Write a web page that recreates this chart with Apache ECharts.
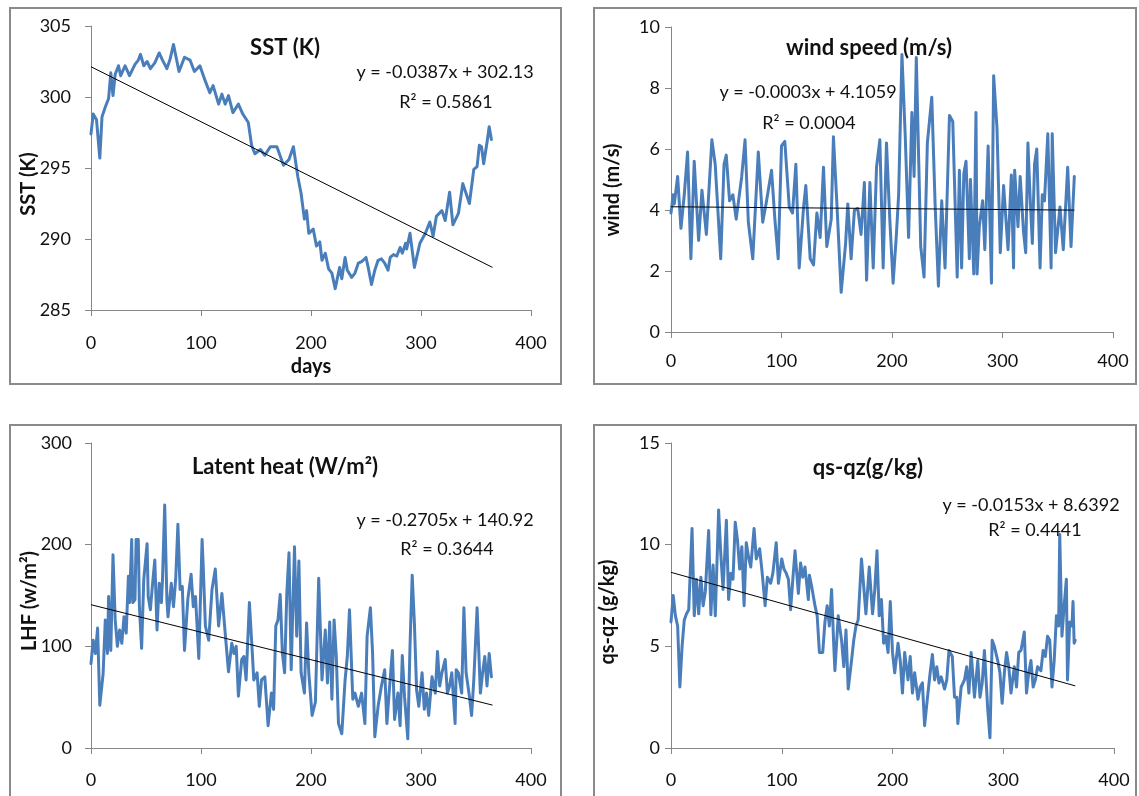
<!DOCTYPE html>
<html>
<head>
<meta charset="utf-8">
<script src="https://cdn.jsdelivr.net/npm/echarts@6/dist/echarts.min.js"></script>
<style>
  html, body { margin: 0; padding: 0; background: #fff; }
  #chart { width: 1139px; height: 796px; }
</style>
</head>
<body>
<div id="chart"></div>
<script>
// day-of-year axis ticks (shared)
const dayTicks = [0, 100, 200, 300, 400];

// SST (K)
const sstDays = [0, 2, 5, 8, 10, 13, 16, 18, 20, 22, 25, 27, 31, 35, 40, 43, 45, 48, 51, 54, 58, 62, 65, 69, 72, 75, 80, 85, 90, 94, 99, 104, 108, 111, 116, 119, 122, 125, 129, 134, 138, 143, 146, 149, 154, 158, 163, 169, 175, 180, 184, 188, 191, 194, 196, 198, 202, 205, 208, 210, 213, 216, 219, 222, 226, 228, 231, 233, 237, 240, 243, 246, 250, 252, 255, 258, 261, 264, 267, 270, 272, 275, 278, 281, 283, 286, 287, 290, 294, 299, 304, 308, 311, 314, 319, 322, 326, 329, 334, 338, 341, 344, 348, 351, 353, 355, 357, 360, 362, 364];
const sstVals = [297.4, 298.8, 298.4, 295.7, 298.6, 299.3, 299.9, 301.7, 300.1, 301.6, 302.2, 301.5, 302.2, 301.5, 302.3, 302.6, 303.0, 302.2, 302.5, 302.0, 302.4, 303.1, 302.6, 302.0, 302.7, 303.7, 301.8, 302.8, 302.6, 301.8, 302.2, 301.1, 300.3, 300.8, 299.5, 300.2, 299.5, 300.1, 298.9, 299.5, 298.8, 298.2, 296.6, 296.0, 296.3, 295.9, 296.5, 296.5, 295.2, 295.6, 296.5, 294.4, 293.2, 291.4, 292.0, 290.4, 290.7, 289.5, 289.8, 288.5, 289.0, 287.9, 287.6, 286.5, 288.0, 287.2, 288.7, 287.8, 287.3, 287.6, 288.3, 288.4, 288.7, 288.0, 286.8, 287.8, 288.5, 288.6, 288.3, 287.8, 288.7, 288.9, 288.8, 289.4, 289.0, 289.7, 289.3, 290.4, 288.0, 289.7, 290.4, 291.2, 290.2, 291.6, 292.0, 291.3, 293.3, 291.0, 291.8, 293.9, 293.2, 292.5, 294.9, 295.1, 296.6, 296.5, 295.3, 296.8, 297.9, 297.0];
const sstTrend = [302.13, 288.0];

// wind speed (m/s)
const windDays = [0, 2, 3, 6, 9, 12, 15, 18, 21, 25, 28, 32, 37, 40, 45, 48, 50, 53, 56, 59, 64, 67, 70, 74, 79, 83, 86, 91, 94, 97, 100, 103, 107, 110, 113, 116, 120, 122, 126, 129, 132, 135, 138, 141, 145, 147, 150, 154, 158, 160, 163, 166, 169, 172, 175, 177, 180, 183, 186, 189, 192, 195, 198, 201, 204, 206, 209, 212, 215, 218, 220, 222, 226, 229, 232, 236, 239, 242, 245, 248, 252, 255, 259, 261, 263, 265, 267, 270, 271, 274, 276, 277, 279, 282, 284, 287, 290, 292, 295, 298, 301, 305, 308, 310, 311, 314, 316, 319, 321, 323, 325, 327, 329, 331, 334, 336, 338, 341, 344, 345, 348, 352, 355, 359, 362, 365];
const windVals = [3.9, 4.5, 4.2, 5.1, 3.4, 4.5, 5.9, 2.4, 5.6, 3.0, 4.65, 3.2, 6.3, 5.5, 2.4, 5.5, 5.8, 4.3, 4.5, 3.7, 5.1, 6.3, 3.6, 2.4, 5.9, 3.6, 4.2, 5.3, 3.7, 2.4, 6.1, 6.25, 4.1, 3.9, 5.5, 2.1, 4.1, 4.8, 2.4, 2.2, 3.9, 3.1, 5.4, 2.8, 3.7, 6.4, 4.3, 1.3, 2.9, 4.2, 2.4, 4.0, 4.05, 3.2, 4.9, 1.7, 4.9, 2.1, 5.4, 6.3, 2.1, 6.2, 3.7, 1.6, 3.2, 4.5, 9.1, 6.4, 3.1, 7.2, 5.1, 9.0, 2.8, 1.8, 6.2, 7.7, 4.2, 1.5, 4.3, 2.1, 7.1, 6.9, 1.8, 5.3, 2.1, 5.2, 5.6, 2.4, 5.0, 1.9, 7.2, 1.9, 3.45, 4.3, 2.7, 6.1, 1.6, 8.4, 6.7, 2.6, 4.8, 2.7, 5.15, 2.1, 5.3, 3.45, 5.1, 3.3, 2.6, 6.2, 4.4, 2.9, 5.5, 6.0, 2.1, 4.5, 4.3, 6.5, 2.1, 6.5, 2.6, 4.1, 2.7, 5.4, 2.8, 5.1];
const windTrend = [4.106, 3.996];

// latent heat flux (W/m2)
const lhfDays = [0, 2, 4, 6, 8, 11, 13, 15, 16, 18, 20, 22, 24, 26, 28, 30, 32, 34, 35, 37, 38, 40, 41, 43, 44, 46, 48, 51, 52, 54, 56, 58, 60, 62, 64, 65, 67, 69, 70, 73, 75, 77, 79, 81, 83, 85, 88, 91, 93, 95, 98, 101, 102, 104, 107, 110, 113, 116, 119, 122, 125, 128, 130, 132, 134, 137, 139, 141, 144, 146, 148, 151, 153, 155, 158, 161, 164, 166, 168, 170, 172, 174, 176, 178, 180, 182, 185, 187, 189, 191, 194, 196, 198, 201, 204, 207, 210, 213, 215, 217, 219, 221, 223, 225, 228, 231, 233, 235, 238, 240, 243, 246, 249, 251, 254, 256, 258, 261, 264, 267, 269, 271, 274, 276, 279, 281, 283, 285, 288, 290, 292, 294, 296, 298, 301, 303, 305, 307, 310, 313, 315, 317, 319, 322, 324, 326, 328, 331, 332, 334, 337, 339, 341, 344, 346, 348, 351, 354, 356, 358, 360, 362, 364];
const lhfVals = [83, 106, 93, 118, 42, 73, 126, 93, 149, 96, 190, 126, 100, 116, 103, 129, 113, 169, 143, 205, 143, 146, 205, 205, 139, 98, 166, 201, 149, 136, 162, 185, 116, 162, 143, 166, 239, 146, 129, 162, 139, 166, 220, 156, 159, 96, 146, 171, 139, 149, 88, 205, 179, 120, 106, 156, 176, 120, 152, 113, 75, 103, 93, 100, 51, 87, 90, 67, 143, 106, 67, 74, 41, 67, 70, 22, 54, 38, 120, 126, 151, 93, 74, 152, 192, 77, 198, 110, 184, 74, 54, 123, 74, 32, 45, 167, 67, 116, 64, 124, 48, 126, 90, 24, 14, 67, 90, 136, 48, 54, 41, 54, 24, 110, 138, 93, 11, 41, 61, 77, 24, 54, 96, 28, 54, 22, 91, 51, 9, 100, 170, 123, 57, 41, 74, 38, 54, 32, 70, 54, 95, 61, 74, 87, 54, 61, 74, 24, 77, 74, 54, 138, 74, 51, 32, 67, 138, 54, 74, 90, 61, 93, 70];
const lhfTrend = [140.92, 42.19];

// qs-qz (g/kg)
const qDays = [0, 2, 4, 6, 8, 10, 12, 14, 16, 19, 21, 23, 25, 27, 29, 31, 34, 36, 38, 40, 43, 45, 47, 50, 52, 54, 56, 58, 60, 62, 64, 66, 68, 70, 72, 75, 77, 80, 82, 85, 87, 90, 92, 95, 97, 100, 102, 104, 106, 108, 110, 112, 115, 117, 119, 121, 124, 125, 127, 130, 132, 134, 137, 139, 141, 143, 145, 147, 148, 151, 154, 156, 158, 160, 163, 165, 167, 169, 172, 174, 176, 179, 182, 184, 186, 188, 190, 192, 194, 196, 198, 200, 202, 205, 207, 209, 211, 214, 216, 218, 220, 223, 225, 227, 229, 232, 234, 236, 238, 240, 242, 244, 247, 249, 251, 254, 256, 258, 259, 262, 265, 267, 269, 271, 274, 277, 279, 281, 283, 286, 288, 290, 292, 295, 297, 299, 301, 303, 305, 307, 310, 312, 314, 316, 319, 321, 323, 325, 327, 329, 331, 334, 336, 338, 340, 342, 344, 346, 348, 350, 351, 353, 355, 357, 358, 360, 362, 363, 364, 365];
const qVals = [6.2, 7.5, 6.5, 6.0, 3.0, 5.0, 6.3, 6.6, 6.8, 10.8, 6.5, 8.3, 6.6, 8.4, 7.0, 7.7, 10.7, 6.55, 9.0, 6.5, 11.7, 9.5, 7.8, 11.2, 7.3, 8.6, 8.3, 11.1, 10.25, 8.8, 9.9, 7.0, 10.1, 9.4, 8.9, 10.8, 9.3, 9.8, 8.8, 7.0, 8.4, 8.1, 8.6, 10.1, 8.1, 9.3, 8.8, 8.6, 8.3, 6.8, 8.3, 9.7, 7.6, 9.1, 8.4, 8.9, 7.3, 8.5, 7.95, 7.0, 6.5, 4.7, 4.7, 6.2, 7.0, 6.0, 7.8, 5.0, 3.8, 6.5, 5.3, 4.0, 5.8, 2.9, 4.3, 5.3, 6.0, 6.3, 9.3, 7.95, 6.6, 8.9, 6.6, 7.8, 9.7, 6.5, 7.3, 5.15, 5.5, 4.7, 7.2, 4.7, 3.7, 5.15, 4.3, 2.7, 4.7, 3.35, 4.5, 2.7, 3.7, 2.4, 3.0, 3.2, 1.1, 2.7, 3.7, 4.6, 3.35, 4.0, 3.2, 3.5, 2.9, 3.35, 4.8, 4.5, 2.5, 2.5, 1.2, 3.0, 3.35, 4.0, 2.7, 4.7, 2.5, 4.3, 2.5, 3.2, 4.8, 1.9, 0.5, 5.3, 5.0, 4.3, 3.7, 2.2, 3.7, 4.7, 4.0, 2.7, 4.0, 3.0, 4.7, 4.8, 5.7, 2.7, 3.7, 4.3, 3.0, 3.35, 4.0, 3.8, 4.8, 4.5, 5.5, 5.3, 3.0, 4.3, 6.5, 6.0, 10.5, 5.5, 7.0, 8.3, 3.35, 6.2, 6.0, 7.2, 5.15, 5.3];
const qTrend = [8.639, 3.055];

const trendDays = [0, 365];

const pairs = (xs, ys) => xs.map((x, i) => [x, ys[i]]);

const FONT = 'Lato, "Noto Sans", sans-serif';
const BLUE = '#4a7ebb';
const AXIS = '#868686';

const grids = [
  { left: 91, top: 26, width: 440, height: 284 },
  { left: 671, top: 27, width: 442, height: 305 },
  { left: 91, top: 443, width: 440, height: 305 },
  { left: 671, top: 443, width: 443, height: 305 }
];

function xAx(i, margin) {
  return {
    gridIndex: i, type: 'value', min: 0, max: 400, interval: 100,
    axisLine: { show: true, lineStyle: { color: AXIS, width: 1 } },
    axisTick: { show: true, inside: false, length: 6, lineStyle: { color: AXIS } },
    splitLine: { show: false },
    axisLabel: { fontFamily: FONT, fontSize: 18, color: '#111', margin: margin,
      formatter: v => dayTicks.indexOf(v) >= 0 ? String(v) : '' }
  };
}
function yAx(i, min, max, step, margin) {
  return {
    gridIndex: i, type: 'value', min: min, max: max, interval: step,
    axisLine: { show: true, lineStyle: { color: AXIS, width: 1 } },
    axisTick: { show: true, inside: false, length: 6, lineStyle: { color: AXIS } },
    splitLine: { show: false },
    axisLabel: { fontFamily: FONT, fontSize: 18, color: '#111', margin: margin }
  };
}
function dataLine(i, data) {
  return { type: 'line', xAxisIndex: i, yAxisIndex: i, data: data, showSymbol: false,
    symbol: 'none', lineStyle: { color: BLUE, width: 3, cap: 'round', join: 'round' },
    z: 2, animation: false };
}
function trendLine(i, ends) {
  return { type: 'line', xAxisIndex: i, yAxisIndex: i, data: pairs(trendDays, ends),
    symbol: 'none', lineStyle: { color: '#000', width: 1 }, z: 3, animation: false };
}

function txt(x, y, text, size, bold, rot) {
  return { type: 'text', x: x, y: y, rotation: rot || 0, z: 10,
    style: { text: text, fill: '#111', align: 'center', verticalAlign: 'middle',
      font: (bold ? 'bold ' : '') + size + 'px ' + FONT } };
}
function frame(x, y, w, h) {
  return { type: 'rect', shape: { x: x, y: y, width: w, height: h },
    style: { fill: 'none', stroke: '#8a8a8a', lineWidth: 2 }, z: 1 };
}

const chart = echarts.init(document.getElementById('chart'), null, { renderer: 'canvas' });
chart.setOption({
  animation: false,
  grid: grids,
  xAxis: [xAx(0, 24), xAx(1, 20), xAx(2, 23), xAx(3, 23)],
  yAxis: [yAx(0, 285, 305, 5, 20), yAx(1, 0, 10, 2, 11), yAx(2, 0, 300, 100, 19), yAx(3, 0, 15, 5, 11)],
  series: [
    dataLine(0, pairs(sstDays, sstVals)), trendLine(0, sstTrend),
    dataLine(1, pairs(windDays, windVals)), trendLine(1, windTrend),
    dataLine(2, pairs(lhfDays, lhfVals)), trendLine(2, lhfTrend),
    dataLine(3, pairs(qDays, qVals)), trendLine(3, qTrend)
  ],
  graphic: [
    frame(10, 8, 551, 376), frame(594, 8, 542, 376),
    frame(10, 425, 551, 400), frame(594, 425, 542, 400),
    // panel titles
    txt(285, 48, 'SST (K)', 22, true),
    txt(869, 48, 'wind speed (m/s)', 22, true),
    txt(285, 467, 'Latent heat (W/m²)', 22, true),
    txt(868, 468, 'qs-qz(g/kg)', 22, true),
    // trend equations
    txt(445, 72, 'y = -0.0387x + 302.13', 18), txt(446, 102, 'R² = 0.5861', 18),
    txt(808, 92, 'y = -0.0003x + 4.1059', 18), txt(809, 123, 'R² = 0.0004', 18),
    txt(445, 520, 'y = -0.2705x + 140.92', 18), txt(447, 549, 'R² = 0.3644', 18),
    txt(1031, 505, 'y = -0.0153x + 8.6392', 18), txt(1035, 530, 'R² = 0.4441', 18),
    // axis names
    txt(29, 184, 'SST (K)', 20, true, Math.PI / 2),
    txt(311, 367, 'days', 20, true),
    txt(613, 190, 'wind (m/s)', 20, true, Math.PI / 2),
    txt(30, 601, 'LHF (w/m²)', 20, true, Math.PI / 2),
    txt(608, 612, 'qs-qz (g/kg)', 20, true, Math.PI / 2)
  ]
});
</script>
</body>
</html>
